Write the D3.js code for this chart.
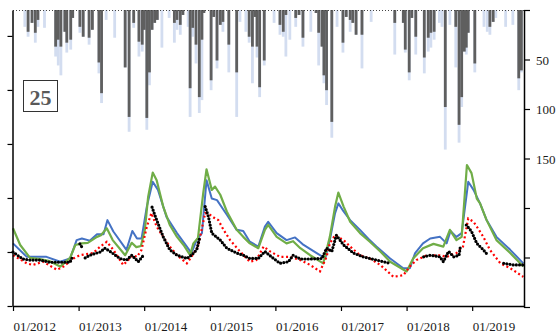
<!DOCTYPE html>
<html><head><meta charset="utf-8">
<script src="https://cdn.jsdelivr.net/npm/d3@7"></script>
<style>body{margin:0;background:#fff}svg{display:block}</style>
</head><body><svg id="c" width="558" height="336"></svg>
<script>
// ---- data ----
const yearTicks = [2012,2013,2014,2015,2016,2017,2018,2019];
const rightTicks = [0,50,100,150,200,250,300];
const rightLabels = [50,100,150];
const leftTicks = [0,1,2,3,4,5];
const panelLabel = "25";

// precipitation bars (decimal year, mm)
const barT = [2012.18,2012.23,2012.29,2012.34,2012.38,2012.48,2012.65,2012.69,2012.73,2012.79,2012.82,2012.88,2012.91,2013.02,2013.07,2013.16,2013.21,2013.31,2013.35,2013.42,2013.55,2013.71,2013.77,2013.84,2013.92,2013.97,2014.00,2014.04,2014.08,2014.12,2014.16,2014.20,2014.27,2014.38,2014.46,2014.50,2014.55,2014.59,2014.67,2014.70,2014.74,2014.79,2014.84,2014.88,2014.91,2015.02,2015.06,2015.11,2015.16,2015.20,2015.29,2015.41,2015.46,2015.55,2015.60,2015.65,2015.69,2015.72,2015.76,2015.83,2015.98,2016.07,2016.12,2016.16,2016.22,2016.31,2016.36,2016.42,2016.54,2016.62,2016.66,2016.71,2016.74,2016.78,2016.86,2016.94,2017.03,2017.08,2017.14,2017.18,2017.23,2017.32,2017.46,2017.82,2017.95,2017.98,2018.04,2018.08,2018.14,2018.27,2018.33,2018.37,2018.42,2018.50,2018.54,2018.59,2018.66,2018.75,2018.80,2018.84,2018.88,2018.91,2018.94,2019.04,2019.18,2019.23,2019.27,2019.32,2019.36,2019.51,2019.62,2019.71,2019.75];
const barDark = [0,22,13,23,10,0,37,30,37,22,33,30,8,17,27,28,20,53,84,0,0,58,108,13,32,35,20,109,63,20,13,10,0,0,13,10,15,5,0,79,18,35,88,30,3,71,7,51,15,12,35,63,0,0,27,37,7,37,78,51,0,15,22,5,0,8,5,28,0,3,23,37,66,81,113,0,33,7,10,13,25,25,0,13,13,40,63,8,27,48,28,23,22,0,0,98,0,17,116,88,42,38,23,54,0,0,17,12,0,0,0,69,61];
const barLight = [17,27,13,33,17,18,47,56,66,22,43,40,8,23,27,35,20,64,94,10,28,58,123,18,47,42,20,121,76,20,13,10,38,8,33,20,25,5,17,108,27,54,104,91,3,81,7,59,15,22,63,108,12,22,33,74,7,48,88,56,13,25,27,47,30,17,5,37,22,3,56,37,74,96,129,17,43,7,22,13,25,59,12,45,13,43,71,8,45,64,42,38,30,13,17,141,15,58,134,98,42,45,23,63,17,22,25,12,8,17,15,81,63];

// groundwater / model series (decimal year, left-axis units)
const greenT = [2012.00,2012.11,2012.26,2012.41,2012.56,2012.72,2012.87,2012.95,2013.05,2013.14,2013.28,2013.34,2013.43,2013.52,2013.71,2013.81,2013.88,2013.95,2014.01,2014.06,2014.13,2014.19,2014.29,2014.39,2014.50,2014.60,2014.70,2014.75,2014.82,2014.90,2014.95,2015.03,2015.08,2015.16,2015.26,2015.41,2015.51,2015.61,2015.74,2015.84,2015.89,2016.02,2016.17,2016.27,2016.38,2016.53,2016.73,2016.83,2016.91,2016.96,2017.04,2017.14,2017.29,2017.44,2017.60,2017.75,2018.00,2018.10,2018.25,2018.41,2018.56,2018.66,2018.76,2018.84,2018.92,2018.99,2019.07,2019.12,2019.22,2019.37,2019.58,2019.78];
const greenV = [1.44,1.13,0.89,0.87,0.83,0.73,0.89,1.13,1.16,1.17,1.28,1.31,1.44,1.22,0.94,1.17,1.09,1.11,1.41,2.02,2.47,2.33,1.84,1.50,1.28,1.13,0.94,1.16,1.26,2.09,2.53,2.15,2.21,2.06,1.75,1.41,1.28,1.16,1.07,1.41,1.50,1.28,1.16,1.20,1.07,0.94,0.79,1.28,1.84,2.10,1.84,1.56,1.35,1.19,1.01,0.82,0.64,0.88,1.07,1.15,1.10,1.41,1.22,1.28,2.61,2.46,1.99,1.90,1.59,1.22,0.98,0.73];

const blueT = [2012.00,2012.21,2012.51,2012.72,2012.87,2012.97,2013.05,2013.17,2013.28,2013.38,2013.44,2013.53,2013.73,2013.82,2013.89,2013.96,2014.04,2014.13,2014.21,2014.34,2014.50,2014.65,2014.72,2014.80,2014.88,2014.95,2015.03,2015.11,2015.26,2015.41,2015.51,2015.61,2015.74,2015.84,2015.89,2016.02,2016.17,2016.30,2016.43,2016.63,2016.76,2016.83,2016.91,2016.96,2017.04,2017.14,2017.29,2017.42,2017.54,2017.75,2017.95,2018.05,2018.13,2018.25,2018.36,2018.51,2018.61,2018.67,2018.76,2018.84,2018.94,2019.02,2019.12,2019.22,2019.37,2019.58,2019.78];
const blueV = [1.16,0.91,0.91,0.82,0.88,1.22,1.25,1.21,1.33,1.33,1.59,1.38,1.04,1.39,1.25,1.25,1.84,2.30,2.15,1.65,1.35,1.10,0.98,1.22,1.35,2.33,1.99,1.96,1.69,1.41,1.39,1.19,1.10,1.47,1.56,1.35,1.22,1.27,1.13,0.98,0.88,1.22,1.72,1.90,1.75,1.59,1.41,1.24,1.10,0.88,0.70,0.70,0.98,1.16,1.25,1.28,1.16,1.39,1.28,1.35,2.30,2.15,1.90,1.59,1.28,1.04,0.79];

const redT = [2012.00,2012.21,2012.30,2012.46,2012.67,2012.77,2012.92,2013.02,2013.22,2013.33,2013.43,2013.53,2013.68,2013.83,2013.89,2013.96,2014.04,2014.11,2014.19,2014.29,2014.39,2014.50,2014.65,2014.72,2014.82,2014.93,2015.00,2015.08,2015.13,2015.21,2015.31,2015.46,2015.61,2015.71,2015.82,2015.92,2016.07,2016.22,2016.38,2016.53,2016.68,2016.78,2016.83,2016.91,2017.04,2017.14,2017.29,2017.44,2017.60,2017.80,2017.95,2018.05,2018.15,2018.31,2018.51,2018.61,2018.76,2018.86,2018.94,2019.02,2019.07,2019.17,2019.27,2019.43,2019.58,2019.78];
const redV = [0.94,0.79,0.76,0.82,0.67,0.73,0.88,0.94,0.98,1.10,1.19,1.04,0.76,0.94,0.91,1.04,1.47,1.72,1.47,1.28,1.10,0.94,0.79,0.91,1.10,1.72,1.69,1.62,1.59,1.41,1.22,1.01,0.82,0.85,1.10,1.01,0.91,0.91,0.85,0.76,0.64,0.91,1.16,1.31,1.22,1.10,0.94,0.88,0.76,0.54,0.57,0.73,0.85,0.94,0.94,0.91,0.98,1.10,1.62,1.56,1.47,1.28,1.04,0.79,0.70,0.54];

// observed (null = gap)
const obsT = [2012.00,2012.08,2012.15,2012.26,2012.41,2012.56,2012.72,2012.87,2012.90,2012.96,2013.02,2013.05,2013.07,2013.10,2013.17,2013.33,2013.40,2013.48,2013.63,2013.73,2013.81,2013.91,2013.99,2014.05,2014.12,2014.16,2014.21,2014.29,2014.39,2014.50,2014.65,2014.72,2014.80,2014.85,2014.89,2014.93,2014.98,2015.03,2015.16,2015.26,2015.41,2015.51,2015.61,2015.74,2015.84,2015.94,2016.07,2016.20,2016.27,2016.38,2016.53,2016.71,2016.78,2016.86,2016.93,2017.04,2017.19,2017.34,2017.54,2017.75,2018.00,2018.26,2018.36,2018.51,2018.56,2018.64,2018.72,2018.80,2018.82,2018.87,2018.91,2018.99,2019.07,2019.17,2019.24,2019.35,2019.48,2019.63,2019.78];
const obsV = [1.00,0.93,0.87,0.85,0.85,0.81,0.81,0.81,0.89,null,1.15,1.09,null,0.89,0.94,1.00,1.07,1.01,0.88,0.85,0.94,0.82,0.94,null,1.83,1.69,1.53,1.28,1.04,0.94,0.88,0.94,1.04,1.28,null,1.84,1.65,1.35,1.22,1.07,0.98,0.94,0.88,0.88,1.01,0.91,0.79,0.82,0.94,0.87,0.87,0.88,1.07,1.01,1.31,1.13,0.98,0.91,0.85,0.79,null,0.91,0.94,0.91,0.82,1.01,0.91,0.94,1.10,null,1.50,1.38,1.16,1.04,0.94,null,0.79,0.76,0.76];

// ---- chart ----
const svg = d3.select("#c");
const x = d3.scaleLinear().domain([2012, 2019.79]).range([13, 524]);
const yL = d3.scaleLinear().domain([0, 5.48]).range([306, 10]);
const yR = d3.scaleLinear().domain([0, 300]).range([10, 307]);
const serif = "'Liberation Serif','Times New Roman',serif";
const bw = 2.8;

// bars (light behind, dark in front)
const bars = barT.map((t,i)=>({t, d:barDark[i], l:barLight[i]}));
svg.append("g").selectAll("rect").data(bars.filter(b=>b.l>0)).join("rect")
  .attr("x", b=>x(b.t)-bw/2).attr("y", yR(0)).attr("width", bw)
  .attr("height", b=>yR(b.l)-yR(0)).attr("fill", "#d3ddf0");
svg.append("g").selectAll("rect").data(bars.filter(b=>b.d>0)).join("rect")
  .attr("x", b=>x(b.t)-bw/2).attr("y", yR(0)).attr("width", bw)
  .attr("height", b=>yR(b.d)-yR(0)).attr("fill", "#5f5f5f");
// near-zero bar baseline
svg.append("line").attr("x1", x(2012)).attr("x2", x(2019.79))
  .attr("y1", yR(0)+0.5).attr("y2", yR(0)+0.5)
  .attr("stroke", "#444").attr("stroke-width", 1).attr("stroke-dasharray", "1,2");

// lines
const mk = (T,V)=>T.map((t,i)=>({t, v:V[i]}));
const line = d3.line().defined(d=>d.v!=null).x(d=>x(d.t)).y(d=>yL(d.v));
svg.append("path").datum(mk(blueT,blueV)).attr("d", line)
  .attr("fill","none").attr("stroke","#4472c4").attr("stroke-width",2).attr("stroke-linejoin","round");
svg.append("path").datum(mk(greenT,greenV)).attr("d", line)
  .attr("fill","none").attr("stroke","#70ad47").attr("stroke-width",2.2).attr("stroke-linejoin","round");
svg.append("path").datum(mk(redT,redV)).attr("d", line)
  .attr("fill","none").attr("stroke","#ff0000").attr("stroke-width",2.2).attr("stroke-dasharray","2,2.6");
svg.append("path").datum(mk(obsT,obsV)).attr("d", line)
  .attr("fill","none").attr("stroke","#000").attr("stroke-width",3.2)
  .attr("stroke-linecap","round").attr("stroke-dasharray","0,3.2");

// axes
const gL = svg.append("g").attr("transform","translate(12.5,0)")
  .call(d3.axisLeft(yL).tickValues(leftTicks).tickSize(5).tickFormat("").tickSizeOuter(0));
const gR = svg.append("g").attr("transform","translate(524,0)")
  .call(d3.axisRight(yR).tickValues(rightTicks).tickSize(6).tickPadding(6).tickSizeOuter(0)
    .tickFormat(d=>rightLabels.includes(d)?d:""));
const gB = svg.append("g").attr("transform","translate(0,306)")
  .call(d3.axisBottom(x).tickValues(yearTicks).tickSize(5).tickPadding(8).tickSizeOuter(0)
    .tickFormat(d=>"01/"+d));
[gL,gR,gB].forEach(g=>{
  g.selectAll("path.domain").attr("stroke","#000").attr("stroke-width",1.5);
  g.selectAll(".tick line").attr("stroke","#000").attr("stroke-width",1.2);
  g.selectAll("text").attr("font-family",serif).attr("font-size",13).attr("fill","#1a1a1a");
});
gB.selectAll("text").attr("text-anchor","start").attr("dy","0.9em");
gR.selectAll("text").attr("dy","0.35em");

// panel label
svg.append("rect").attr("x",23.5).attr("y",80.5).attr("width",34).attr("height",31)
  .attr("fill","#fff").attr("stroke","#333").attr("stroke-width",1);
svg.append("text").attr("x",40.5).attr("y",104.5).attr("text-anchor","middle")
  .attr("font-family",serif).attr("font-weight","bold").attr("font-size",22)
  .attr("fill","#595959").text(panelLabel);
</script></body></html>
